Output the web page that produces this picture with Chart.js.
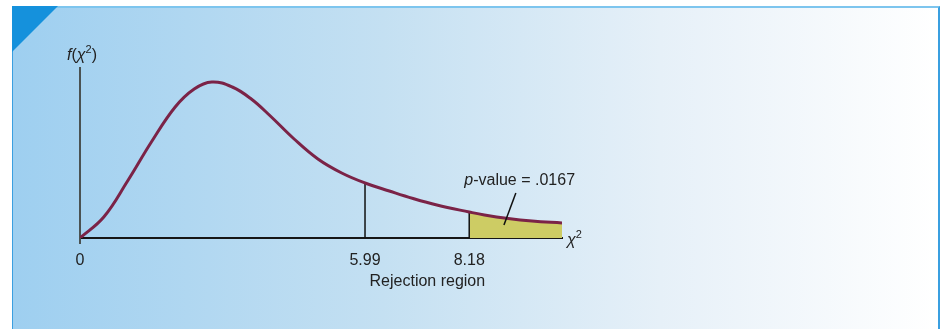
<!DOCTYPE html>
<html>
<head>
<meta charset="utf-8">
<script src="https://cdn.jsdelivr.net/npm/chart.js@4/dist/chart.umd.min.js"></script>
<style>
  html, body { margin: 0; padding: 0; background: #ffffff; }
  #wrap { position: relative; width: 945px; height: 329px; overflow: hidden; }
  #panel {
    position: absolute; left: 12px; top: 6px; width: 925px; height: 323px;
    border-top: 2px solid #7dc5ee; border-left: 1px solid #3b9fe0; border-right: 2px solid #3a9fe0;
    background: linear-gradient(to right, #9ecff0 0%, #c4e0f2 40%, #e6f0f8 70%, #ffffff 100%);
  }
  #corner {
    position: absolute; left: 12px; top: 6px; width: 46px; height: 46px;
    background: #1591dc; clip-path: polygon(0 0, 100% 0, 0 100%);
  }
  #c { position: absolute; left: 0; top: 0; }
</style>
</head>
<body>
<div id="wrap">
  <div id="panel"></div>
  <div id="corner"></div>
  <canvas id="c" width="945" height="329"></canvas>
</div>
<script>
// Values (chi-square axis units, density in arbitrary units)
const chiX    = [0, 0.5, 1.0, 1.5, 2.0, 2.4, 2.77, 3.2, 3.6, 4.0, 4.5, 5.0, 5.5, 5.99, 6.5, 7.0, 7.5, 8.18, 8.5, 9.0, 9.5, 10.13];
const density = [0, 2.1, 5.7, 9.6, 13.1, 14.9, 15.6, 15.1, 13.9, 12.2, 9.9, 7.9, 6.5, 5.5, 4.7, 3.95, 3.3, 2.6, 2.3, 1.95, 1.7, 1.5];
const tickValues = [0, 5.99, 8.18];
const tickLabels = ["0", "5.99", "8.18"];
const criticalValue = 5.99;
const testStatistic = 8.18;
const pValueLabel = ".0167";
const leaderX = [9.16, 8.91];
const leaderY = [4.5, 1.3];

const curve = chiX.map((x, i) => ({ x: x, y: density[i] }));
const tail = curve.filter(p => p.x >= testStatistic);
const yAt = v => density[chiX.indexOf(v)];
const critLine = [{ x: criticalValue, y: 0 }, { x: criticalValue, y: yAt(criticalValue) }];
const statLine = [{ x: testStatistic, y: 0 }, { x: testStatistic, y: yAt(testStatistic) }];
const leader = leaderX.map((x, i) => ({ x: x, y: leaderY[i] }));

const FONT = '"Liberation Sans", Arial, Helvetica, sans-serif';
const TXT = '#222222';

function drawRich(ctx, parts, x, y, align) {
  let total = 0;
  const fonts = parts.map(([t, s]) => s === 'i' ? 'italic 16px ' + FONT : (s === 's' ? '11px ' + FONT : '16px ' + FONT));
  parts.forEach(([t], k) => { ctx.font = fonts[k]; total += ctx.measureText(t).width; });
  let cx = align === 'center' ? x - total / 2 : x;
  ctx.textAlign = 'left';
  ctx.textBaseline = 'middle';
  parts.forEach(([t, s], k) => {
    ctx.font = fonts[k];
    ctx.fillText(t, cx, s === 's' ? y - 6 : y);
    cx += ctx.measureText(t).width;
  });
}

const annotations = {
  id: 'annotations',
  afterDatasetsDraw(chart) {
    const { ctx, chartArea, scales: { x, y } } = chart;
    ctx.save();
    ctx.fillStyle = TXT;
    drawRich(ctx, [['f', 'i'], ['(', 'n'], ['χ', 'i'], ['2', 's'], [')', 'n']], chartArea.left + 2, chartArea.top - 12, 'center');
    drawRich(ctx, [['χ', 'i'], ['2', 's']], chartArea.right + 5, y.getPixelForValue(0) + 3, 'left');
    drawRich(ctx, [['p', 'i'], ['-value = ' + pValueLabel, 'n']], x.getPixelForValue(9.24), y.getPixelForValue(5.7), 'center');
    drawRich(ctx, [['Rejection region', 'n']], x.getPixelForValue(7.3), y.getPixelForValue(0) + 44, 'center');
    ctx.restore();
  }
};

new Chart(document.getElementById('c'), {
  type: 'line',
  data: {
    datasets: [
      { data: curve, borderColor: '#7b2347', borderWidth: 3, pointRadius: 0, tension: 0.4, fill: false, order: 1 },
      { data: tail, borderWidth: 0, borderColor: 'rgba(0,0,0,0)', backgroundColor: '#cdcc64', pointRadius: 0, tension: 0.4, fill: 'origin', order: 5 },
      { data: critLine, borderColor: '#111111', borderWidth: 1.5, pointRadius: 0, fill: false, order: 3 },
      { data: statLine, borderColor: '#111111', borderWidth: 1.5, pointRadius: 0, fill: false, order: 3 },
      { data: leader, borderColor: '#111111', borderWidth: 1.5, pointRadius: 0, fill: false, order: 0 }
    ]
  },
  options: {
    responsive: false,
    animation: false,
    events: [],
    layout: { padding: { left: 80, right: 383, top: 68, bottom: 36 } },
    plugins: { legend: { display: false }, tooltip: { enabled: false } },
    scales: {
      x: {
        type: 'linear', min: 0, max: 10.13,
        afterFit(s) { s.height = 55; },
        afterBuildTicks(s) { s.ticks = tickValues.map(v => ({ value: v })); },
        border: { display: true, color: '#161616', width: 2 },
        grid: {
          display: true, drawOnChartArea: false, drawTicks: true, tickLength: 6, lineWidth: 2,
          color: c => (c.tick && c.tick.value === 0) ? '#4a5252' : 'rgba(0,0,0,0)'
        },
        ticks: {
          autoSkip: false, maxRotation: 0, padding: 7, color: TXT,
          font: { family: FONT, size: 16 },
          callback: (v) => tickLabels[tickValues.indexOf(v)]
        }
      },
      y: {
        type: 'linear', min: 0, max: 17,
        afterFit(s) { s.width = 0; },
        border: { display: true, color: '#4a5252', width: 2 },
        grid: { display: true, drawOnChartArea: false, drawTicks: false },
        ticks: { display: false }
      }
    }
  },
  plugins: [annotations]
});
</script>
</body>
</html>
